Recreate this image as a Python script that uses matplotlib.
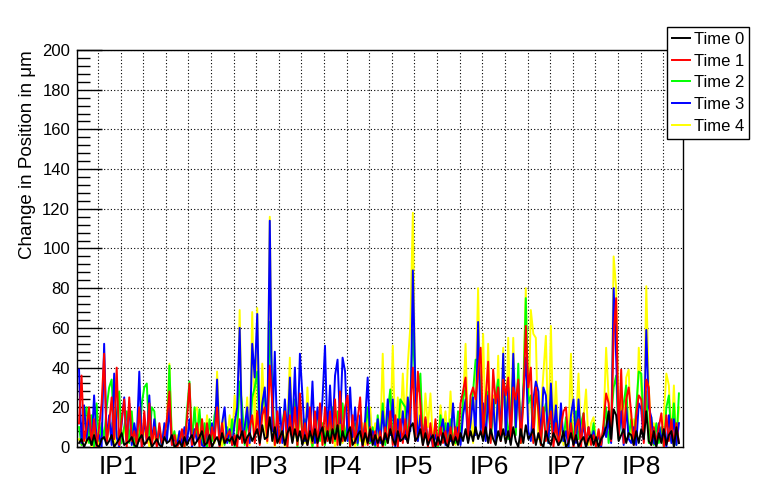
import numpy as np
import matplotlib
matplotlib.use('Agg')
import matplotlib.pyplot as plt
from matplotlib.ticker import MultipleLocator

plt.rcParams['font.family'] = ['Liberation Sans', 'DejaVu Sans']

# values, one point per ~2.2 channels, in um
time4 = [4, 1, 6, 2, 8, 0, 3, 7, 1, 5,
         6, 2, 9, 12, 1, 8, 0, 5, 10, 2,
         3, 8, 1, 5, 9, 2, 7, 10, 0, 4,
         5, 1, 7, 2, 10, 12, 42, 3, 0, 6,
         2, 7, 0, 8, 12, 3, 18, 20, 4, 14,
         1, 16, 3, 8, 2, 38, 10, 0, 15, 4,
         16, 2, 26, 5, 69, 3, 8, 25, 1, 68,
         6, 70, 3, 42, 10, 2, 116, 14, 0, 8,
         2, 12, 0, 9, 45, 4, 10, 1, 20, 6,
         2, 30, 4, 0, 12, 3, 14, 1, 10, 5,
         3, 8, 0, 6, 14, 2, 8, 12, 1, 9,
         0, 10, 3, 12, 1, 14, 20, 2, 12, 4,
         5, 47, 2, 16, 6, 51, 3, 25, 8, 37,
         10, 42, 61, 118, 14, 3, 32, 2, 27, 10,
         27, 2, 12, 0, 21, 8, 18, 3, 28, 4,
         1, 14, 3, 20, 52, 5, 20, 2, 26, 80,
         10, 57, 4, 52, 8, 26, 2, 46, 6, 50,
         5, 55, 3, 55, 9, 36, 2, 30, 80, 12,
         69, 57, 55, 4, 18, 37, 56, 2, 61, 6,
         33, 3, 18, 1, 12, 4, 47, 2, 12, 37,
         2, 14, 29, 1, 12, 15, 3, 8, 0, 12,
         50, 25, 4, 96, 80, 8, 26, 2, 35, 39,
         4, 14, 2, 50, 30, 6, 81, 30, 3, 12,
         1, 10, 3, 16, 37, 31, 4, 31, 2, 20]

time3 = [39, 2, 21, 4, 17, 1, 26, 3, 6, 0,
         52, 3, 16, 1, 37, 5, 0, 12, 25, 2,
         22, 1, 12, 4, 38, 0, 14, 3, 26, 2,
         14, 1, 10, 0, 12, 3, 20, 1, 5, 0,
         8, 1, 10, 2, 14, 0, 9, 3, 6, 1,
         0, 10, 2, 12, 4, 34, 1, 12, 20, 2,
         9, 1, 12, 20, 60, 3, 10, 20, 2, 52,
         35, 67, 4, 22, 30, 6, 114, 8, 48, 3,
         20, 2, 24, 5, 35, 8, 40, 4, 47, 26,
         3, 22, 6, 33, 2, 20, 8, 24, 51, 4,
         31, 6, 36, 44, 12, 45, 38, 3, 30, 5,
         20, 2, 16, 0, 14, 35, 3, 8, 1, 14,
         2, 18, 4, 24, 6, 24, 0, 14, 3, 18,
         4, 25, 8, 89, 30, 3, 16, 2, 14, 1,
         8, 0, 6, 2, 8, 14, 1, 12, 3, 22,
         4, 10, 1, 16, 24, 3, 12, 25, 6, 63,
         8, 22, 3, 26, 6, 24, 2, 30, 5, 47,
         6, 30, 2, 47, 10, 32, 4, 28, 45, 8,
         3, 24, 33, 28, 4, 30, 26, 2, 32, 5,
         21, 1, 22, 3, 8, 0, 16, 24, 2, 24,
         3, 12, 0, 10, 2, 8, 1, 7, 0, 10,
         5, 14, 2, 80, 45, 6, 18, 1, 20, 4,
         2, 10, 1, 22, 19, 3, 59, 20, 15, 2,
         1, 12, 3, 9, 0, 16, 2, 14, 1, 12]

time2 = [10, 1, 14, 20, 2, 16, 0, 22, 3, 12,
         4, 20, 30, 34, 6, 16, 28, 2, 10, 18,
         2, 18, 0, 8, 3, 22, 30, 32, 4, 20,
         18, 2, 8, 0, 10, 3, 41, 2, 8, 0,
         3, 8, 0, 18, 33, 2, 20, 4, 19, 1,
         12, 0, 14, 3, 16, 22, 2, 8, 1, 10,
         2, 14, 0, 8, 33, 20, 1, 15, 3, 25,
         30, 38, 4, 20, 28, 5, 63, 30, 2, 14,
         3, 12, 20, 1, 29, 4, 24, 0, 22, 6,
         14, 2, 12, 0, 10, 18, 3, 12, 1, 16,
         2, 20, 3, 18, 1, 22, 4, 12, 0, 10,
         12, 1, 14, 3, 10, 20, 2, 10, 0, 16,
         3, 22, 1, 18, 29, 2, 12, 4, 24, 22,
         20, 3, 24, 59, 30, 28, 37, 2, 12, 1,
         10, 2, 8, 0, 16, 3, 12, 0, 14, 4,
         2, 18, 4, 24, 30, 6, 18, 28, 44, 44,
         30, 5, 20, 28, 3, 18, 26, 34, 4, 30,
         22, 4, 18, 37, 6, 42, 2, 26, 75, 22,
         26, 3, 27, 20, 1, 16, 22, 2, 20, 4,
         14, 1, 16, 3, 15, 0, 14, 2, 18, 4,
         12, 17, 1, 8, 3, 12, 0, 6, 2, 9,
         20, 2, 14, 30, 36, 4, 16, 22, 31, 5,
         14, 3, 20, 38, 37, 6, 28, 2, 15, 1,
         12, 2, 10, 0, 20, 26, 3, 22, 1, 27]

time1 = [12, 36, 3, 10, 20, 1, 14, 0, 10, 22,
         47, 2, 12, 25, 4, 40, 1, 14, 24, 0,
         25, 3, 8, 1, 20, 0, 18, 2, 22, 1,
         10, 0, 12, 2, 5, 14, 28, 1, 6, 0,
         2, 9, 0, 14, 32, 1, 6, 12, 0, 14,
         1, 12, 0, 10, 3, 20, 0, 12, 2, 6,
         8, 1, 6, 0, 14, 2, 8, 0, 10, 16,
         2, 18, 1, 16, 20, 3, 41, 22, 1, 18,
         2, 10, 18, 0, 16, 3, 20, 1, 27, 4,
         12, 1, 20, 2, 18, 0, 22, 1, 20, 3,
         18, 2, 24, 1, 28, 3, 20, 26, 0, 16,
         2, 14, 25, 0, 12, 1, 10, 2, 8, 0,
         8, 0, 10, 2, 18, 1, 16, 0, 14, 2,
         14, 2, 20, 40, 3, 38, 22, 1, 15, 0,
         12, 0, 14, 1, 10, 2, 8, 0, 10, 1,
         10, 2, 22, 28, 35, 4, 26, 30, 24, 37,
         50, 6, 24, 43, 2, 39, 22, 30, 3, 34,
         26, 35, 4, 30, 24, 34, 2, 22, 61, 30,
         40, 2, 30, 18, 1, 20, 3, 12, 18, 0,
         12, 1, 10, 18, 20, 2, 12, 0, 10, 14,
         0, 17, 2, 10, 1, 6, 0, 9, 1, 12,
         27, 22, 3, 57, 75, 4, 39, 2, 24, 30,
         17, 1, 16, 26, 24, 2, 34, 30, 1, 10,
         2, 10, 17, 0, 16, 3, 14, 1, 12, 2]

time0 = [2, 4, 0, 3, 5, 1, 6, 1, 0, 4,
         5, 1, 3, 6, 0, 2, 4, 7, 1, 2,
         3, 5, 1, 0, 4, 6, 1, 3, 5, 0,
         2, 4, 1, 0, 5, 2, 3, 6, 0, 1,
         3, 0, 5, 1, 4, 6, 1, 3, 5, 8,
         1, 2, 6, 0, 3, 5, 1, 7, 2, 4,
         3, 5, 1, 6, 4, 8, 2, 5, 7, 3,
         6, 9, 2, 11, 4, 5, 15, 3, 10, 2,
         5, 8, 1, 7, 10, 2, 9, 3, 8, 1,
         6, 1, 8, 3, 9, 2, 7, 10, 2, 8,
         2, 9, 4, 11, 1, 8, 3, 7, 10, 1,
         3, 6, 8, 1, 7, 2, 9, 1, 6, 2,
         5, 1, 7, 2, 9, 4, 1, 8, 3, 4,
         6, 2, 10, 12, 3, 5, 9, 1, 7, 1,
         4, 6, 0, 5, 1, 7, 2, 0, 6, 1,
         5, 1, 7, 3, 9, 2, 8, 3, 10, 4,
         8, 3, 10, 2, 9, 4, 1, 8, 3, 9,
         2, 8, 1, 10, 3, 0, 9, 2, 11, 4,
         6, 9, 1, 7, 2, 0, 8, 3, 1, 7,
         4, 1, 3, 8, 0, 2, 7, 1, 6, 0,
         3, 5, 0, 4, 6, 1, 5, 0, 4, 6,
         10, 18, 4, 19, 16, 3, 6, 9, 2, 7,
         6, 1, 8, 2, 9, 4, 18, 3, 1, 8,
         0, 7, 2, 9, 1, 6, 8, 0, 10, 2]

ip_labels = ['IP1', 'IP2', 'IP3', 'IP4', 'IP5', 'IP6', 'IP7', 'IP8']
ip_pos = [38, 108, 171, 236, 299, 366, 434, 501]

# channel position of each sample
chan = 3.3 + 2.22 * np.arange(len(time0))

fig = plt.figure(figsize=(7.59, 4.98), dpi=100)
ax = fig.add_axes([77 / 759, 1 - 447 / 498, 606 / 759, 397 / 498])

# draw order: time 4 at the back, time 0 on top
ax.plot(chan, time4, color='#ffff00', lw=1.4, label='Time 4', zorder=3)
ax.plot(chan, time2, color='#00ff00', lw=1.4, label='Time 2', zorder=4)
ax.plot(chan, time3, color='#0000ff', lw=1.4, label='Time 3', zorder=5)
ax.plot(chan, time1, color='#ff0000', lw=1.4, label='Time 1', zorder=6)
ax.plot(chan, time0, color='#000000', lw=1.4, label='Time 0', zorder=7)

ax.set_xlim(1.5, 537.5)
ax.set_ylim(0, 200)
ax.xaxis.set_major_locator(MultipleLocator(20))
ax.yaxis.set_major_locator(MultipleLocator(20))
ax.yaxis.set_minor_locator(MultipleLocator(4))
ax.grid(True, which='major', color='black', linestyle=(0, (1, 2)), lw=0.8)
ax.set_axisbelow(True)

ax.tick_params(axis='x', which='both', length=0, labelbottom=False)
ax.tick_params(axis='y', which='major', direction='in', length=18, width=1,
               labelsize=12, pad=5)
ax.tick_params(axis='y', which='minor', direction='in', length=9, width=1)
for s in ax.spines.values():
    s.set_linewidth(1)

for lab, pos in zip(ip_labels, ip_pos):
    ax.text(pos, -0.05, lab, transform=ax.get_xaxis_transform(),
            ha='center', va='center', fontsize=19)

ax.set_ylabel('Change in Position in \u03bcm', fontsize=13.5, loc='top')
ax.yaxis.set_label_coords(-0.067, 1.0)

handles, labels = ax.get_legend_handles_labels()
order = [4, 3, 1, 2, 0]
leg = fig.legend([handles[i] for i in order], [labels[i] for i in order],
                 loc='upper left', bbox_to_anchor=(667 / 759, 1 - 27 / 498),
                 fontsize=12, frameon=True, fancybox=False, framealpha=1,
                 edgecolor='black', handlelength=1.1, handletextpad=0.2,
                 labelspacing=0.4, borderpad=0.3, borderaxespad=0)
leg.get_frame().set_linewidth(1)

fig.savefig('out.png', dpi=100)
